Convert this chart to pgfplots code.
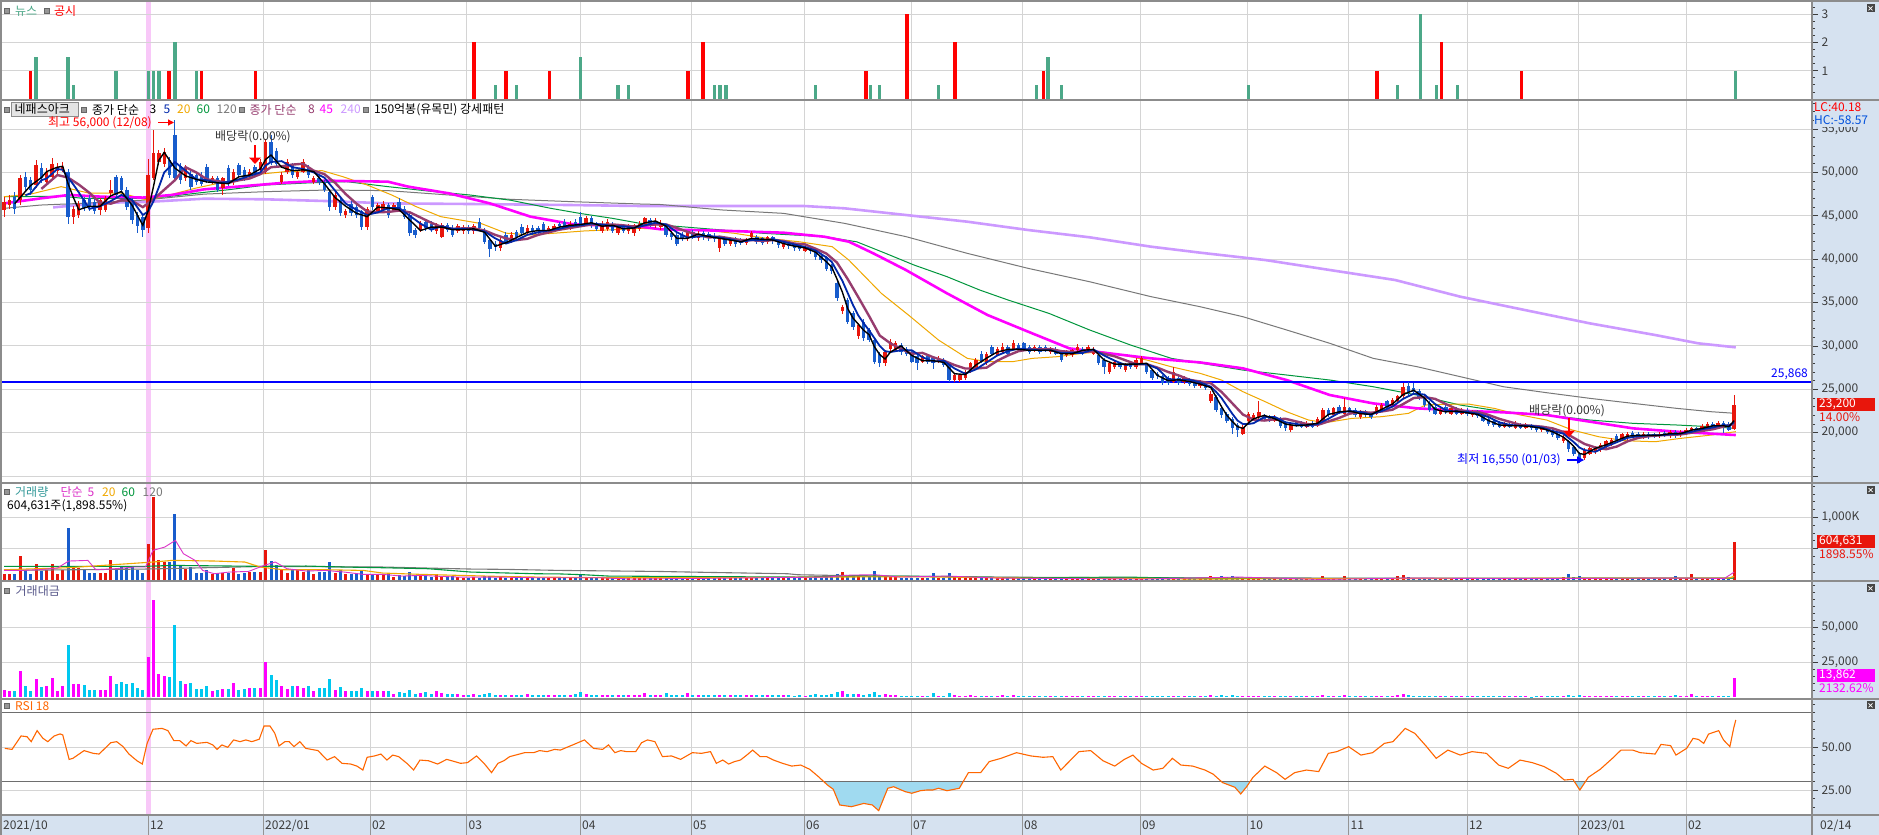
\documentclass[border=0pt]{standalone}
\usepackage{pgfplots}
\pgfplotsset{compat=1.18}
\usepackage{pgfplotstable}
\usetikzlibrary{arrows.meta}
\usepackage{fontspec}
\setmainfont{Noto Sans CJK KR}
\newcommand\tf{\fontsize{12}{14}\selectfont}

\definecolor{candred}{RGB}{232,22,12}
\definecolor{candblue}{RGB}{24,92,204}
\definecolor{ma5}{RGB}{0,40,170}
\definecolor{ma8}{RGB}{150,60,110}
\definecolor{ma20}{RGB}{240,168,0}
\definecolor{ma60}{RGB}{0,150,60}
\definecolor{ma120}{RGB}{120,120,120}
\definecolor{ma45}{RGB}{255,0,255}
\definecolor{ma240}{RGB}{204,153,255}
\definecolor{newsteal}{RGB}{76,168,136}
\definecolor{valmag}{RGB}{255,0,255}
\definecolor{valcyan}{RGB}{0,200,240}
\definecolor{rsiorange}{RGB}{255,102,0}
\definecolor{rsifill}{RGB}{160,218,240}
\definecolor{gridc}{RGB}{212,212,212}
\definecolor{sepc}{RGB}{140,140,140}
\definecolor{panelblue}{RGB}{214,226,240}
\definecolor{ticktext}{RGB}{60,60,60}
\definecolor{pinkband}{RGB}{248,200,248}
\definecolor{volmag}{RGB}{220,50,200}
\definecolor{darkline}{RGB}{110,110,110}
\definecolor{hcblue}{RGB}{0,80,220}
\definecolor{labteal}{RGB}{51,153,153}
\definecolor{labslate}{RGB}{90,90,140}
\definecolor{sqgray}{RGB}{150,150,150}
\definecolor{btngray}{RGB}{228,228,228}
\definecolor{btndark}{RGB}{70,70,70}

\pgfplotstableread{
i o h l c v a
0 457 472 449 466 100 4660
1 462 474 458 468 90 4210
2 472 478 452 458 90 4120
3 468 497 462 493 377 18590
4 495 500 478 483 164 7920
5 491 495 474 480 90 4320
6 485 514 482 508 260 13210
7 505 511 488 493 143 7050
8 489 505 484 501 164 8220
9 495 517 492 510 260 13260
10 502 511 498 506 90 4550
11 503 512 500 506 153 7740
12 500 504 440 449 835 37490
13 449 461 440 458 196 8980
14 451 467 448 464 196 9090
15 468 472 455 459 180 8260
16 470 474 456 460 111 5110
17 466 470 452 456 111 5060
18 457 471 451 468 111 5190
19 457 473 454 470 111 5220
20 476 491 474 480 313 15020
21 495 497 471 474 196 9290
22 493 496 476 480 217 10420
23 480 483 457 460 196 9020
24 468 470 441 445 217 9660
25 451 454 430 438 153 6700
26 449 451 426 434 111 4820
27 436 516 430 497 569 28280
28 493 549 491 522 1325 69170
29 512 526 508 522 313 16340
30 510 528 506 524 287 15040
31 514 518 494 497 287 14260
32 543 560 491 493 1048 51670
33 507 511 487 491 233 11440
34 493 508 490 504 180 9070
35 498 502 480 483 207 10000
36 497 500 486 489 111 5430
37 497 500 484 487 111 5410
38 506 510 488 491 164 8050
39 489 496 487 493 90 4440
40 493 496 477 480 111 5330
41 482 495 474 493 111 5470
42 505 508 484 487 111 5410
43 489 504 486 501 196 9820
44 508 511 494 497 100 4970
45 503 506 490 493 111 5470
46 497 504 494 501 127 6360
47 506 509 496 499 127 6340
48 503 515 500 512 127 6500
49 501 539 498 535 473 25310
50 535 543 508 512 303 15510
51 525 528 506 510 233 11880
52 489 500 487 497 164 8150
53 501 515 498 512 111 5680
54 508 511 494 497 164 8150
55 495 503 492 501 164 8220
56 501 515 499 512 127 6500
57 506 509 494 497 153 7600
58 489 496 487 493 90 4440
59 493 496 486 489 127 6210
60 489 491 477 480 127 6100
61 478 480 456 460 287 13200
62 460 477 457 474 111 5260
63 468 470 450 453 153 6930
64 451 458 448 455 90 4100
65 464 467 450 453 90 4080
66 460 463 448 451 90 4060
67 455 457 434 437 143 6250
68 437 460 434 458 90 4120
69 472 474 457 460 90 4140
70 456 465 453 462 90 4160
71 457 467 454 464 90 4180
72 462 465 448 451 90 4060
73 457 465 454 462 47 2170
74 466 470 454 457 80 3660
75 458 461 446 449 58 2600
76 451 453 427 430 122 5250
77 434 436 424 428 58 2480
78 434 444 431 441 58 2560
79 443 446 433 436 90 3920
80 441 444 431 434 47 2040
81 432 442 429 439 90 3950
82 426 442 424 439 58 2550
83 439 442 431 434 47 2040
84 436 439 425 428 58 2480
85 433 441 430 438 47 2060
86 432 439 429 436 40 1740
87 436 439 429 432 36 1560
88 432 441 429 438 42 1840
89 443 447 433 436 36 1570
90 434 436 417 420 58 2440
91 422 424 403 412 69 2840
92 418 421 410 414 36 1490
93 413 425 410 422 42 1770
94 428 431 417 420 31 1300
95 422 431 419 428 40 1710
96 431 434 423 426 31 1320
97 437 440 427 430 36 1550
98 431 439 428 436 42 1830
99 436 439 428 431 31 1340
100 436 438 429 432 36 1560
101 440 443 429 432 31 1340
102 432 438 429 436 36 1570
103 434 441 431 438 31 1360
104 441 443 435 438 40 1750
105 443 446 434 437 31 1350
106 437 444 434 441 36 1590
107 443 446 436 439 47 2060
108 449 454 437 440 84 3700
109 441 450 438 447 42 1880
110 447 450 436 439 36 1580
111 441 443 432 435 31 1350
112 433 444 430 441 36 1590
113 435 446 432 443 31 1370
114 441 443 430 433 26 1130
115 430 441 428 439 31 1360
116 439 441 430 433 26 1130
117 432 440 429 437 31 1350
118 430 441 427 439 26 1140
119 435 444 432 441 31 1370
120 440 449 438 447 58 2590
121 445 448 437 440 36 1580
122 439 447 436 444 31 1380
123 437 445 434 442 26 1150
124 438 440 425 428 68 2910
125 430 433 422 425 31 1320
126 428 430 415 418 36 1500
127 428 431 421 424 26 1100
128 424 433 421 431 68 2930
129 431 434 423 426 31 1320
130 424 432 421 429 26 1120
131 430 432 422 425 31 1320
132 429 431 421 424 26 1100
133 427 430 420 423 31 1310
134 413 426 408 424 31 1310
135 424 427 415 418 26 1090
136 418 426 415 424 31 1310
137 423 425 414 417 26 1080
138 421 424 416 419 26 1090
139 419 424 416 422 31 1310
140 426 432 424 430 36 1550
141 425 428 418 420 26 1090
142 424 426 416 419 26 1090
143 420 427 418 425 31 1320
144 425 427 418 421 26 1090
145 420 423 413 416 31 1290
146 414 420 412 418 26 1090
147 418 420 412 415 26 1080
148 416 418 410 413 26 1070
149 414 416 409 412 31 1280
150 410 415 408 413 26 1070
151 413 415 406 409 31 1270
152 408 410 399 402 58 2330
153 404 406 396 399 36 1440
154 403 404 386 389 42 1630
155 393 395 383 386 47 1810
156 372 376 352 355 100 3550
157 340 347 337 345 121 4170
158 353 355 325 328 69 2260
159 338 340 318 322 58 1870
160 311 326 308 324 58 1880
161 328 331 306 309 52 1610
162 318 321 304 307 63 1930
163 307 309 279 282 137 3860
164 291 293 276 280 58 1620
165 280 295 277 293 69 2020
166 297 308 294 305 58 1770
167 295 306 293 303 47 1420
168 301 303 290 293 36 1050
169 297 299 288 291 31 900
170 293 295 280 282 36 1020
171 288 290 272 280 36 1010
172 282 290 280 288 31 890
173 288 290 279 282 31 870
174 286 288 274 280 105 2940
175 282 288 280 286 31 890
176 284 286 276 278 36 1000
177 280 282 259 261 105 2740
178 261 268 259 266 47 1250
179 261 268 258 266 36 960
180 263 272 261 270 31 840
181 271 282 269 280 42 1180
182 275 286 273 284 36 1020
183 291 294 280 282 31 870
184 280 293 278 291 36 1050
185 299 301 289 291 31 900
186 290 299 288 297 31 920
187 293 303 291 299 36 1080
188 299 301 289 291 26 760
189 297 307 295 303 36 1090
190 301 303 293 295 26 770
191 303 305 295 297 31 920
192 299 301 291 293 26 760
193 295 301 293 299 31 930
194 299 301 291 293 26 760
195 299 301 293 295 26 770
196 293 299 291 297 31 920
197 297 299 289 291 26 760
198 293 295 282 284 31 880
199 289 295 287 293 26 760
200 289 297 287 295 26 770
201 295 302 293 299 31 930
202 297 299 289 291 26 760
203 295 301 293 299 31 930
204 291 299 289 297 26 770
205 289 291 278 280 36 1010
206 284 286 268 276 31 860
207 270 282 268 280 31 870
208 276 284 274 282 26 730
209 280 282 274 276 26 720
210 272 280 270 278 31 860
211 280 282 274 276 26 720
212 276 286 274 284 31 880
213 280 288 278 286 26 740
214 278 280 268 270 31 840
215 272 274 261 263 31 820
216 268 270 262 265 26 690
217 265 267 255 257 26 670
218 263 265 255 257 26 670
219 259 276 257 270 36 970
220 263 265 255 257 26 670
221 258 265 256 263 26 680
222 261 263 254 256 26 670
223 259 261 252 254 21 530
224 254 261 252 259 26 670
225 258 260 249 251 26 650
226 236 248 234 245 58 1420
227 241 243 224 226 42 950
228 228 230 217 220 58 1280
229 222 224 211 214 42 900
230 216 218 199 205 58 1190
231 209 211 195 203 47 950
232 199 209 197 207 31 640
233 213 224 211 222 36 800
234 215 223 213 220 31 680
235 218 236 216 224 36 810
236 220 222 214 216 26 560
237 218 220 212 214 21 450
238 214 220 212 218 26 570
239 216 218 206 208 26 540
240 212 214 202 205 21 430
241 203 211 201 209 21 440
242 212 214 207 209 26 540
243 211 213 205 207 21 430
244 207 213 205 211 21 440
245 211 213 205 207 21 430
246 209 218 207 216 26 560
247 214 229 212 226 58 1310
248 226 228 218 220 31 680
249 220 230 218 228 36 820
250 230 232 222 224 26 580
251 222 240 220 230 58 1330
252 228 230 220 222 31 690
253 226 228 218 220 26 570
254 218 226 216 224 26 580
255 224 226 218 220 21 460
256 222 224 216 218 26 570
257 222 232 220 230 36 830
258 226 234 224 232 31 720
259 236 238 228 230 26 600
260 232 240 230 238 36 860
261 236 244 234 242 69 1670
262 242 257 240 253 84 2130
263 254 258 244 247 47 1160
264 251 257 244 247 31 770
265 248 250 238 240 31 740
266 242 244 230 232 31 720
267 234 236 224 226 26 590
268 230 232 220 222 26 580
269 222 228 220 226 21 470
270 230 232 222 224 26 580
271 222 230 220 228 21 480
272 228 230 220 222 26 580
273 222 228 220 226 21 470
274 226 228 219 221 21 460
275 220 226 218 224 21 470
276 224 226 217 219 21 460
277 220 222 212 214 26 560
278 216 218 208 210 21 440
279 213 215 207 209 21 440
280 211 213 205 207 21 430
281 207 212 205 210 26 550
282 210 212 205 207 21 430
283 206 213 204 211 21 440
284 209 211 204 206 21 430
285 206 211 204 209 21 440
286 208 210 203 205 16 330
287 206 208 201 203 21 430
288 203 208 201 206 21 430
289 205 207 199 201 21 420
290 203 205 195 197 26 510
291 199 201 192 194 31 600
292 190 197 188 195 42 820
293 190 192 178 181 90 1630
294 184 186 173 176 42 740
295 176 178 165.5 170 69 1170
296 171 182 169 180 36 650
297 176 184 174 182 31 560
298 178 185 176 183 26 480
299 180 188 178 186 26 480
300 184 192 182 190 26 490
301 187 194 185 192 21 400
302 196 198 190 192 21 400
303 193 200 191 198 26 510
304 194 201 192 199 21 420
305 200 202 195 197 21 410
306 199 201 194 196 21 410
307 195 201 193 199 21 420
308 199 201 193 195 21 410
309 198 200 194 196 21 410
310 196 201 194 199 21 420
311 200 202 195 197 21 410
312 196 203 194 201 26 520
313 201 203 194 196 58 1140
314 197 203 195 201 26 520
315 199 205 197 203 26 530
316 200 207 198 205 90 1850
317 205 207 200 202 26 530
318 203 210 201 208 31 640
319 205 212 203 210 26 550
320 210 212 205 207 31 640
321 206 213 204 211 26 550
322 211 213 200 207 26 540
323 210 212 202 203.5 21 430
324 204 243.5 203 232 604.6 13862
}\ohlc

\pgfplotstableread{
x r
0.15 49.2
1.5 48.6
3.2 56.4
4.3 56.0
5.1 53.1
6.2 59.5
7.3 55.0
8.2 53.1
9.4 56.4
10.5 57.6
11.0 57.0
12.2 42.8
12.9 43.4
15.0 47.9
16.7 46.3
17.8 45.9
18.9 49.2
20.0 52.5
21.1 53.1
22.3 50.2
23.4 45.9
24.9 42.0
25.9 40.1
26.8 52.1
27.9 60.3
29.6 60.8
30.7 59.5
31.8 53.7
32.9 53.7
34.1 50.6
35.0 53.7
36.1 52.1
38.0 52.7
39.1 51.2
39.9 48.6
40.8 51.2
41.9 49.8
43.0 54.1
44.2 53.1
45.3 54.1
46.4 53.1
47.8 54.5
48.7 62.2
49.8 62.2
50.7 58.0
51.5 50.6
52.6 53.1
53.4 53.1
54.3 50.2
55.4 53.1
56.5 49.2
58.8 47.9
60.5 42.4
61.9 44.4
63.3 40.5
64.9 40.1
66.1 38.9
67.2 36.6
68.0 44.0
69.4 44.8
70.6 45.9
71.7 42.4
72.8 45.3
73.9 44.4
75.6 40.1
76.7 36.6
77.9 42.4
79.5 42.0
81.2 40.1
82.9 42.8
84.4 41.5
85.5 40.5
86.8 40.9
88.5 44.8
90.0 40.1
91.3 35.1
92.5 40.5
93.6 42.0
94.7 44.4
95.8 45.3
97.5 46.7
99.2 46.7
100.3 47.9
101.7 47.3
103.1 48.6
104.2 48.2
105.4 49.8
106.5 51.2
108.7 54.1
110.4 49.2
112.1 48.6
113.2 51.2
114.4 46.7
115.5 47.9
116.6 47.3
118.3 47.3
119.4 52.5
120.5 54.1
121.9 53.1
123.3 44.4
125.0 44.8
126.7 42.8
128.9 46.7
130.6 46.3
132.3 47.3
133.4 40.5
134.6 42.4
135.7 40.1
136.8 41.5
137.9 42.4
139.1 45.3
140.2 48.2
141.6 44.4
142.8 44.4
144.1 42.4
145.8 40.5
147.5 38.9
149.2 39.5
150.9 37.0
152.5 32.8
154.2 27.9
155.3 25.4
156.5 16.3
158.7 15.3
161.0 17.2
162.6 16.3
163.8 13.0
165.5 26.0
166.6 26.9
168.8 24.0
170.0 23.1
171.6 24.6
172.8 25.0
173.9 25.0
175.0 26.0
176.6 24.6
178.9 26.0
180.6 35.1
182.9 35.1
184.5 41.5
186.7 43.4
189.6 46.7
192.3 44.8
194.6 44.0
196.4 44.4
197.9 36.6
201.3 47.3
203.5 47.9
205.8 42.0
208.0 38.9
209.8 42.8
211.4 45.3
213.0 40.5
215.2 36.6
217.0 37.6
218.8 43.4
220.4 39.5
222.6 38.9
224.9 36.6
226.4 34.3
228.2 29.3
230.5 26.6
231.6 22.7
232.7 26.9
233.9 32.4
236.1 38.9
238.3 35.1
239.9 31.2
241.7 35.1
243.9 36.6
246.2 35.7
248.0 46.3
249.6 47.3
251.8 50.2
254.1 45.3
256.3 46.7
258.5 52.1
260.1 53.1
262.4 60.8
264.2 57.9
266.4 50.2
268.2 43.4
270.4 48.2
272.7 45.3
274.9 47.3
277.6 46.3
279.9 39.5
281.7 37.6
283.9 42.4
286.2 40.9
288.4 38.6
290.7 34.7
292.2 30.8
293.8 31.2
295.1 25.0
296.7 32.4
298.9 37.0
301.2 43.4
302.8 48.2
305.0 48.2
306.4 46.7
309.2 45.9
310.3 51.5
312.1 50.8
313.1 45.3
315.1 49.2
316.3 55.0
317.3 54.4
318.3 52.1
319.2 57.5
321.1 59.5
322.0 54.1
323.2 50.2
323.9 60.8
324.3 65.7
}\rsi

\pgfplotsset{
 panel/.style={
  scale only axis, width=1810pt,
  xmin=-0.375, xmax=338.58,
  axis line style={draw=none},
  xtick={48.5,68.54,86.61,107.87,128.65,149.81,169.85,190.64,212.73,232.87,251.78,273.97,294.85,315.0},
  xticklabels={}, xtick style={draw=none},
  xmajorgrids, ymajorgrids,
  grid style={draw=gridc, line width=0.9pt},
  ytick pos=right, yticklabel pos=right,
  tick align=outside,
  major tick length=6pt, minor tick length=3pt,
  ytick style={draw=ticktext, line width=0.8pt},
  yticklabel style={font=\tf, text=ticktext, anchor=west, xshift=0pt},
  scaled y ticks=false,
  anchor=north west,
 },
 wickup/.style={draw=none, mark=none, error bars/.cd, y dir=both, y explicit, error mark=none, error bar style={draw=candred, line width=1pt}},
 wickdn/.style={draw=none, mark=none, error bars/.cd, y dir=both, y explicit, error mark=none, error bar style={draw=candblue, line width=1pt}},
 bodyup/.style={draw=none, mark=none, error bars/.cd, y dir=both, y explicit, error mark=none, error bar style={draw=candred, line width=3.4pt}},
 bodydn/.style={draw=none, mark=none, error bars/.cd, y dir=both, y explicit, error mark=none, error bar style={draw=candblue, line width=3.4pt}},
}

\begin{document}
\begin{tikzpicture}[x=1pt,y=1pt,font=\tf]
\fill[white] (0,0) rectangle (1879,-835);
\fill[panelblue] (1812,0) rectangle (1879,-835);
\fill[panelblue] (0,-815) rectangle (1879,-835);
\fill[pinkband] (146,-2) rectangle (151,-815);

% ---------- news / disclosures ----------
\begin{axis}[panel, at={(2pt,-2pt)}, height=97pt, ymin=0, ymax=3.43,
  ytick={1,2,3}, yticklabels={1,2,3}, minor ytick={0.25,0.5,...,3.25}]
\addplot[ycomb, draw=newsteal, line width=3.3pt] coordinates {
(6,1.5)(12,1.5)(13,0.5)(21,1)(27,1)(28,1)(29,1)(32,2)(36,1)(92,0.5)(96,0.5)(108,1.5)(115,0.5)(117,0.5)(133,0.5)(134.1,0.5)(135.2,0.5)(152,0.5)(162.2,0.5)(164,0.5)(175,0.5)(193.4,0.5)(195.5,1.5)(198,0.5)(233,0.5)(261,0.5)(265.2,3)(268.3,0.5)(272.2,0.5)(324.3,1)};
\addplot[ycomb, draw=red, line width=3.3pt] coordinates {
(4.9,1)(30.9,1)(37,1)(47.1,1)(88,2)(94,1)(102.1,1)(128.1,1)(130.9,2)(161.4,1)(169.1,3)(178.1,2)(194.6,1)(257.1,1)(269.2,2)(284.2,1)};
\end{axis}

% ---------- price ----------
\begin{axis}[panel, at={(2pt,-101pt)}, height=381pt, ymin=143.2, ymax=582.3,
  ytick={150,200,250,300,350,400,450,500,550},
  yticklabels={{},{20,000},{25,000},{30,000},{35,000},{40,000},{45,000},{50,000},{55,000}},
  minor ytick={150,160,...,580}]
\addplot[ma240, line width=2.6pt] coordinates {(9.2,459.7)(18.4,465)(26.8,466)(37.5,469.7)(49,469)(60.4,467)(71.9,464.3)(87.2,463.6)(106.3,462.4)(119.1,461.3)(130.7,461.3)(149.8,461.3)(157.4,458.6)(168.9,450.9)(180.4,443.2)(191.8,433.6)(203.3,425.2)(214.8,414.4)(224,407.5)(236.2,399)(248.3,387.5)(260.5,376)(272.7,356.8)(284.8,341.4)(297,326)(309.2,312.6)(317.3,303)(324.3,298.4)};
\addplot[ma120, line width=1pt] coordinates {(0,458.6)(6.9,462.4)(14.5,464.3)(26,468)(37.5,475)(49,477.8)(60.4,479.7)(71.9,479)(83.3,474)(94.8,469)(106.3,466.3)(119.1,463.6)(123,463)(134.5,456.7)(146,452.8)(157.4,441.3)(168.9,426)(180.4,406.7)(191.8,389.4)(203.3,374)(214.8,356.8)(224,345.2)(232,333.7)(240.2,318.4)(248.3,303)(256.4,285.7)(264.6,276.1)(272.7,264.6)(280.8,253)(288.9,246.1)(297,239.6)(305.1,233.8)(313.2,228.1)(319.7,224.2)(324.3,222.3)};
\addplot[ma60, line width=1pt] coordinates {(0,472)(11,472.5)(15,470)(27,470)(30.5,472)(36,476)(42,480)(49,485.5)(57.3,488)(64.2,489.3)(71.9,483.6)(79.5,478.5)(87.2,474)(94.8,468)(102.4,458.6)(107.8,452.8)(113.9,447.1)(119.1,441.3)(130.7,435.5)(142.2,429.8)(153.6,426)(159.7,420)(165.1,406.7)(170.4,393.3)(176.6,379.8)(182.7,364.5)(188,353)(195.7,337.5)(203.3,318.4)(211,301)(218.6,285.7)(226.2,278)(232,272.2)(240.2,266.5)(248.3,260.7)(256.4,253)(264.6,243.4)(272.7,231.9)(280.8,224.2)(288.9,220.4)(297,214.6)(305.1,210.8)(313.2,208.9)(319.7,206.9)(324.3,205)};
\addplot[ma20, line width=1pt] coordinates {(0,472)(5,475)(10.7,483.6)(16,476)(22,476)(24.5,472)(26.8,468)(31,474)(36,482)(41.3,489)(48,498)(52.8,501)(59.6,502)(63.5,495)(68,485.5)(72.6,474)(77.2,460.5)(81.8,449)(85.6,445)(89.4,441)(94,430)(98.6,428)(103.2,430)(108.6,432.5)(114,434)(119,435.5)(130.7,433.6)(136.8,429.8)(142.9,424)(149,420)(155.1,414.4)(158.2,399)(164.3,360.6)(169.7,334)(175,306.8)(180.4,285.7)(184.2,281.8)(188.8,281.8)(192.6,285.7)(197.2,287.6)(201.8,291.4)(205.6,293.4)(209.4,289.5)(214,283.8)(218.6,276)(224,268.4)(228,260.7)(232,247.3)(236.2,235.7)(240.2,224.2)(244.3,214.6)(247.5,211.6)(252.4,216.5)(258,218.5)(263,222.3)(266.2,231.9)(269.4,232.7)(274.3,233)(279.1,228)(284,220.4)(288.9,214.6)(293.7,203.1)(298.6,195.4)(303.5,190.8)(309.2,189.6)(314,193.5)(319.7,197.3)(324.3,201.2)};
\addplot[ma45, line width=2.6pt] coordinates {(0,464.3)(6.9,470.1)(12.2,474)(18.4,472)(26,471)(31.4,474)(37.5,480.5)(45.1,484.3)(52.8,488.2)(60.4,490.5)(71.9,489.3)(75.7,483.6)(83.3,475.9)(91,464.3)(98.6,449)(106.3,440.5)(114,438.2)(119.1,437.5)(123,434.4)(134.5,432.8)(146,430.5)(153.6,425.9)(158.2,420.2)(162.8,406.7)(168.9,387.5)(176.6,360.6)(184.2,335.6)(191.8,316.4)(199.5,297.2)(207.1,291.4)(214.8,285.7)(224,281)(232,274.2)(240.2,260.7)(248.3,243.4)(256.4,233.8)(264.6,228.1)(272.7,225.4)(280.8,223.5)(288.9,220.4)(297,212.7)(305.1,205)(313.2,201.2)(324.3,197.3)};
\addplot[blue, line width=1.4pt] coordinates {(-1,258.68)(340,258.68)};
% candles
\addplot[wickup] table[x=i, y expr=(\thisrow{h}+\thisrow{l})/2, y error expr=(\thisrow{h}-\thisrow{l})/2, restrict expr to domain={\thisrow{c}-\thisrow{o}}{0:1000}] {\ohlc};
\addplot[wickdn] table[x=i, y expr=(\thisrow{h}+\thisrow{l})/2, y error expr=(\thisrow{h}-\thisrow{l})/2, restrict expr to domain={\thisrow{c}-\thisrow{o}}{-1000:-0.001}] {\ohlc};
\addplot[bodyup] table[x=i, y expr=(\thisrow{o}+\thisrow{c})/2, y error expr={max(abs(\thisrow{c}-\thisrow{o})/2,0.7)}, restrict expr to domain={\thisrow{c}-\thisrow{o}}{0:1000}] {\ohlc};
\addplot[bodydn] table[x=i, y expr=(\thisrow{o}+\thisrow{c})/2, y error expr={max(abs(\thisrow{c}-\thisrow{o})/2,0.7)}, restrict expr to domain={\thisrow{c}-\thisrow{o}}{-1000:-0.001}] {\ohlc};
% short MAs
\addplot[ma8, line width=2.4pt] coordinates {(7,481)(10,497)(12,494)(14,486)(16,476.5)(18,465)(20,464)(22,468)(24,467)(26,460)(28,469)(30,480)(32,491)(34,506)(36,500)(38,492)(40,490)(42,488)(44,491)(46,493)(48,498)(50,506)(52,507)(54,509)(56,510)(58,502)(60,498)(62,488)(64,475)(66,464)(68,455)(70,454)(72,454.5)(74,456)(76,454)(78,448)(80,442)(82,437)(84,435)(86,435.5)(88,435.5)(90,433)(92,428)(94,424)(96,422)(98,423.5)(100,428)(102,431)(104,434)(106,436)(108,438)(110,440)(112,440)(114,440)(116,439)(118,437.5)(120,439)(122,440)(124,440)(126,436)(128,431.5)(130,428)(132,425)(134,426)(136,424)(138,422)(140,422)(142,421)(144,422)(146,421)(148,418)(150,417)(152,412)(154,406.5)(156,396)(158,377)(160,356)(162,334.5)(164,312)(166,303)(168,296.5)(170,291)(172,292)(174,287)(176,283)(178,278)(180,274)(182,274)(184,275)(186,283)(188,289)(190,294)(192,296)(194,296)(196,296.5)(198,294)(200,293)(202,293)(204,294)(206,291)(208,288)(210,283.5)(212,279)(214,279)(216,275)(218,270)(220,266)(222,261)(224,259)(226,257)(228,247)(230,234)(232,221)(234,215)(236,214)(238,215.5)(240,216)(242,213)(244,210)(246,209)(248,213)(250,217)(252,222)(254,224)(256,223)(258,224.5)(260,226.5)(262,233)(264,240)(266,241)(268,239)(270,233)(272,227.5)(274,224)(276,224)(278,220.5)(280,216)(282,212.5)(284,209)(286,208)(288,207)(290,205)(292,201)(294,194)(296,187)(298,183)(300,181)(302,184)(304,190)(306,194)(308,196)(310,197)(312,197.5)(314,198)(316,200)(318,202)(320,204)(322,207)(324,210)};
\addplot[ma5, line width=1.8pt] coordinates {(4,473.6)(5,476)(7,491)(8,493)(10,504)(11,503)(12,494)(13,486)(14,477)(16,458)(18,461)(20,467)(22,474)(24,468)(26,451)(27,455)(28,467)(29,483)(30,500)(32,512)(34,502)(36,492)(38,491)(40,488)(42,489)(44,492)(46,496)(48,500)(49,508)(50,512)(52,513)(54,506)(56,504)(58,500)(60,494)(62,479)(64,464)(66,457)(68,451)(70,454)(72,459)(74,459)(76,450)(78,441)(80,434)(82,438)(84,435)(86,435)(88,434)(90,432)(92,424)(94,418)(96,422)(98,428)(100,431)(102,433)(104,435)(106,438)(108,439)(110,441)(112,440)(114,438)(116,438)(118,436)(120,439)(122,442)(124,440)(126,431)(128,425)(130,426)(132,427)(134,425)(136,423)(138,420)(140,422)(142,422)(144,423)(146,420)(148,417)(150,414)(152,410)(154,402)(155,397)(156,386)(157,375)(158,361)(159,347)(160,335)(161,326)(162,318)(163,309)(164,300)(165,294)(166,293)(168,295)(170,295)(172,287)(174,282)(176,283)(178,274)(180,268)(182,273)(184,281)(186,289)(188,294)(190,297)(192,296)(194,295)(196,295)(198,292)(200,292)(202,292)(204,296)(206,289)(208,283)(210,278)(212,279)(214,279)(216,274)(218,262)(220,261)(222,261)(224,258)(226,253)(227,247)(228,240)(229,231)(230,222)(231,214)(232,210)(233,210)(234,211)(236,218)(238,218)(240,212)(242,210)(244,208)(246,210)(248,216)(250,223)(252,225)(254,224)(256,221)(258,225)(260,230)(262,239)(264,245)(266,244)(268,233)(270,226)(272,224)(274,224)(276,222)(278,218)(280,212)(282,209)(284,208)(286,208)(288,206)(290,202)(292,199)(293,194)(294,189)(295,183)(296,180)(298,178)(300,184)(302,189)(304,194)(306,196)(308,197)(310,197)(312,198)(314,199)(316,201)(318,204)(320,206)(322,209)(323,208)(324,212)};
\addplot[black, line width=1.4pt] coordinates {(2,464)(4,478)(5,485)(7,494)(8,501)(10,506)(11,507)(12,487)(13,471)(14,457)(16,461)(18,461)(20,473)(22,478)(24,462)(26,439)(27,456)(28,484)(29,514)(30,523)(32,505)(34,496)(36,492)(38,489)(40,488)(42,487)(44,495)(46,497)(48,504)(49,515)(50,520)(52,506)(54,502)(56,503)(58,501)(60,487)(62,471)(64,461)(66,453)(68,449)(70,460)(72,459)(74,457)(76,445)(78,433)(80,437)(82,437)(84,434)(86,434)(88,435)(90,431)(92,415)(94,419)(96,425)(98,431)(100,433)(102,433)(104,437)(106,439)(108,440)(110,442)(112,438)(114,439)(116,435)(118,436)(120,442)(122,444)(124,438)(126,424)(128,424)(130,429)(132,426)(134,424)(136,422)(138,420)(140,424)(142,423)(144,422)(146,418)(148,415)(150,413)(152,408)(154,397)(155,391)(156,377)(157,362)(158,343)(159,332)(160,325)(161,318)(162,313)(163,299)(164,290)(165,285)(166,293)(168,300)(170,289)(172,283)(174,283)(176,281)(178,268)(180,267)(182,278)(184,286)(186,293)(188,296)(190,296)(192,295)(194,295)(196,295)(198,291)(200,291)(202,295)(204,296)(206,284)(208,279)(210,279)(212,279)(214,280)(216,266)(218,260)(220,261)(222,259)(224,256)(226,252)(227,241)(228,230)(229,220)(230,213)(231,207)(232,205)(233,211)(234,216)(236,220)(238,216)(240,210)(242,208)(244,209)(246,211)(248,221)(250,224)(252,225)(254,222)(256,221)(258,227)(260,233)(262,244)(264,249)(266,240)(268,227)(270,224)(272,225)(274,223)(276,221)(278,214)(280,209)(282,208)(284,208)(286,207)(288,205)(290,201)(292,195)(293,190)(294,184)(295,176)(296,175)(298,182)(300,186)(302,191)(304,196)(306,197)(308,197)(310,197)(312,199)(314,199)(316,203)(318,205)(320,208)(322,208)(323,207)(324,214)};
\end{axis}

% ---------- volume ----------
\begin{axis}[panel, at={(2pt,-484pt)}, height=96pt, ymin=0, ymax=1533,
  ytick={500,1000}, yticklabels={{},{1,000K}}, minor ytick={125,250,...,1500}]
\addplot[ycomb, draw=candred, line width=3pt, restrict expr to domain={\thisrow{c}-\thisrow{o}}{0:1000}] table[x=i, y=v] {\ohlc};
\addplot[ycomb, draw=candblue, line width=3pt, restrict expr to domain={\thisrow{c}-\thisrow{o}}{-1000:-0.001}] table[x=i, y=v] {\ohlc};
\addplot[ma120, line width=1.1pt] coordinates {(0,153)(26.5,175)(49.4,218)(70.9,207)(87.4,175)(93.8,170)(104.1,153)(122.3,137)(132.2,121)(146.8,100)(148.6,84)(155,74)(176.7,52)(194.9,42)(213,36)(246.5,31)(324,31)};
\addplot[ma60, line width=1.1pt] coordinates {(0,218)(26.5,218)(31.5,233)(48,218)(56.6,223)(63.7,207)(70.9,196)(79.5,180)(87.4,127)(99.6,100)(104.1,97)(108.6,84)(113.2,63)(123.2,58)(148.6,47)(160.4,63)(174.9,58)(185.8,42)(194.9,36)(210.3,47)(215.8,36)(226.7,26)(246.5,26)(284.2,26)(324,31)};
\addplot[ma20, line width=1.1pt] coordinates {(0,164)(12.1,196)(27.9,287)(31.5,313)(39.4,303)(45.1,287)(48,207)(52.3,164)(60.2,164)(67.3,153)(70.9,111)(78.1,90)(85.2,74)(92.4,58)(99.6,47)(113.2,36)(131.3,36)(155,47)(167.7,52)(176.7,47)(194.9,26)(213,26)(222.1,15)(246.5,20)(277.3,26)(311.9,31)(323,31)(324,58)};
\addplot[volmag, line width=0.9pt] coordinates {(0,153)(2.8,153)(6.4,164)(10,191)(12.1,303)(15.7,313)(17.2,164)(20.7,180)(24.3,207)(26.5,207)(27.9,473)(30.1,526)(32.1,633)(33.6,420)(35.8,313)(37.2,153)(39.4,100)(42.2,127)(45.8,137)(48.7,233)(50.8,287)(53,180)(56.6,143)(60.2,153)(63.7,127)(67.3,90)(70.9,90)(74.5,63)(78.1,74)(81.7,58)(85.2,47)(92.4,47)(99.6,36)(111.6,36)(117.7,15)(154,47)(158.6,79)(163.1,84)(167.7,47)(176.7,63)(185.8,31)(213,15)(231.2,47)(246.5,10)(263.4,31)(284.2,21)(311.9,31)(322.2,26)(324,127)};
\end{axis}

% ---------- trading value ----------
\begin{axis}[panel, at={(2pt,-582pt)}, height=115pt, ymin=0, ymax=82143,
  ytick={25000,50000}, yticklabels={{25,000},{50,000}}, minor ytick={5000,10000,...,80000}]
\addplot[ycomb, draw=valmag, line width=3pt, restrict expr to domain={\thisrow{c}-\thisrow{o}}{0:1000}] table[x=i, y=a] {\ohlc};
\addplot[ycomb, draw=valcyan, line width=3pt, restrict expr to domain={\thisrow{c}-\thisrow{o}}{-1000:-0.001}] table[x=i, y=a] {\ohlc};
\end{axis}

% ---------- RSI ----------
\begin{axis}[panel, at={(2pt,-700pt)}, height=115pt, ymin=10.47, ymax=77.3,
  ytick={25,50}, yticklabels={{25.00},{50.00}}, minor ytick={15,20,...,75}]
\addplot[fill=rsifill, draw=none] coordinates {(153.5,30)(154.2,27.9)(155.3,25.4)(156.5,16.3)(158.7,15.3)(161.0,17.2)(162.6,16.3)(163.8,13.0)(165.5,26.0)(166.6,26.9)(168.8,24.0)(170.0,23.1)(171.6,24.6)(172.8,25.0)(173.9,25.0)(175.0,26.0)(176.6,24.6)(178.9,26.0)(179.65,30)} -- cycle;
\addplot[fill=rsifill, draw=none] coordinates {(227.95,30)(228.2,29.3)(230.5,26.6)(231.6,22.7)(232.7,26.9)(233.38,30)} -- cycle;
\addplot[fill=rsifill, draw=none] coordinates {(294.05,30)(295.1,25.0)(296.18,30)} -- cycle;
\addplot[darkline, line width=1.6pt] coordinates {(-1,30)(340,30)};
\addplot[darkline, line width=1.6pt] coordinates {(-1,70)(340,70)};
\addplot[rsiorange, line width=1.1pt] table[x=x, y=r] {\rsi};
\end{axis}

% ---------- frame / separators ----------
\foreach \yy in {-100,-483,-581,-699,-815} {\draw[sepc, line width=1.6pt] (0,\yy) -- (1879,\yy);}
\draw[sepc, line width=1.4pt] (0,-1) -- (1879,-1);
\draw[sepc, line width=1.2pt] (1,0) -- (1,-835);
\draw[sepc, line width=1.4pt] (1812,0) -- (1812,-835);
\foreach \xx in {148,263,370,466.5,580,691,804,911,1022,1140,1247.5,1348.5,1467,1578.5,1686} {\draw[gridc!70!black, line width=0.8pt] (\xx,-816) -- (\xx,-835);}

% ---------- date labels ----------
\begin{scope}[every node/.style={anchor=west, inner sep=0pt, text=ticktext, font=\tf}]
\node at (3,-825.5) {2021/10};
\node at (150,-825.5) {12};
\node at (265,-825.5) {2022/01};
\node at (372,-825.5) {02};
\node at (468.5,-825.5) {03};
\node at (582,-825.5) {04};
\node at (693,-825.5) {05};
\node at (806,-825.5) {06};
\node at (913,-825.5) {07};
\node at (1024,-825.5) {08};
\node at (1142,-825.5) {09};
\node at (1249.5,-825.5) {10};
\node at (1350.5,-825.5) {11};
\node at (1469,-825.5) {12};
\node at (1580.5,-825.5) {2023/01};
\node at (1688,-825.5) {02};
\node at (1820,-825.5) {02/14};
\end{scope}

% ---------- legends ----------
\newcommand\sq[2]{\filldraw[fill=sqgray, draw=black!60, line width=0.5pt] (#1-2.5,#2-2.5) rectangle (#1+2.5,#2+2.5);}
\begin{scope}[every node/.style={anchor=west, inner sep=0pt, font=\tf}]
\sq{7}{-10.5}
\node[text=newsteal] at (15,-11) {뉴스};
\sq{47}{-10.5}
\node[text=red] at (54,-11) {공시};
\sq{6.5}{-109.5}
\filldraw[fill=btngray, draw=black!45, line width=0.8pt] (11.5,-102.5) rectangle (78,-116.5);
\node at (14.5,-109.5) {네패스아크};
\sq{84}{-109.5}
\node[text=black] at (92,-109.5) {종가 단순};
\node[text=black] at (149.5,-109.5) {3};
\node[text=ma5] at (163.5,-109.5) {5};
\node[text=ma20] at (177,-109.5) {20};
\node[text=ma60] at (196.5,-109.5) {60};
\node[text=ma120] at (216.5,-109.5) {120};
\sq{242}{-109.5}
\node[text=ma8] at (249.5,-109.5) {종가 단순};
\node[text=ma8] at (308,-109.5) {8};
\node[text=ma45] at (319.5,-109.5) {45};
\node[text=ma240] at (340.5,-109.5) {240};
\sq{365.5}{-109.5}
\node[text=black] at (374,-109.5) {150억봉(유목민) 강세패턴};
\sq{7}{-491.5}
\node[text=labteal] at (15,-492) {거래량};
\node[text=volmag] at (60.5,-492) {단순};
\node[text=volmag] at (87.5,-492) {5};
\node[text=ma20] at (102,-492) {20};
\node[text=ma60] at (121.5,-492) {60};
\node[text=ma120] at (142.5,-492) {120};
\node[text=black] at (7,-505.5) {604,631주(1,898.55\%)};
\sq{7}{-590.5}
\node[text=labslate] at (15.5,-591) {거래대금};
\sq{7}{-706}
\node[text=rsiorange] at (15,-706.5) {RSI 18};
\node[text=red] at (48,-122.5) {최고 56,000 (12/08)};
\node[text=black!80] at (215,-137) {배당락(0.00\%)};
\node[text=black!80] at (1529,-411) {배당락(0.00\%)};
\node[text=blue] at (1457,-460) {최저 16,550 (01/03)};
\node[text=blue, anchor=east] at (1808,-374) {25,868};
\node[text=red] at (1814,-107.5) {LC:40.18};
\node[text=hcblue, fill=panelblue, inner ysep=1.5pt, inner xsep=0.5pt] at (1813.5,-120.5) {HC:-58.57};
\fill[candred] (1817,-398) rectangle (1875,-411);
\node[text=white] at (1819,-404.5) {23,200};
\node[text=candred] at (1819,-417) {14.00\%};
\fill[candred] (1817,-535) rectangle (1875,-547.5);
\node[text=white] at (1819,-541.3) {604,631};
\node[text=candred] at (1819,-554) {1898.55\%};
\fill[valmag] (1817,-669) rectangle (1875,-682);
\node[text=white] at (1819,-675.5) {13,862};
\node[text=valmag] at (1819,-688) {2132.62\%};
\end{scope}

\draw[red, line width=1.2pt, -{Triangle[width=6pt,length=6pt]}] (158,-122.5) -- (174,-122.5);
\draw[red, line width=1.2pt] (255,-145) -- (255,-158);
\fill[red] (249,-157.5) -- (261,-157.5) -- (255,-164) -- cycle;
\draw[red, line width=1.2pt] (1569,-418) -- (1569,-431);
\fill[red] (1563,-430.5) -- (1575,-430.5) -- (1569,-437) -- cycle;
\draw[blue, line width=1.2pt, -{Triangle[width=7pt,length=7pt]}] (1567,-460) -- (1584,-460);

\foreach \yy in {-8.3,-490,-588.3,-705.3} {
  \fill[btndark] (1866.5,\yy+4) rectangle (1874.5,\yy-4);
  \draw[white, line width=0.7pt] (1868.5,\yy+2) -- (1872.5,\yy-2) (1868.5,\yy-2) -- (1872.5,\yy+2);
}

\pgfresetboundingbox
\path[use as bounding box] (0,0) rectangle (1879,-835);
\end{tikzpicture}
\end{document}
